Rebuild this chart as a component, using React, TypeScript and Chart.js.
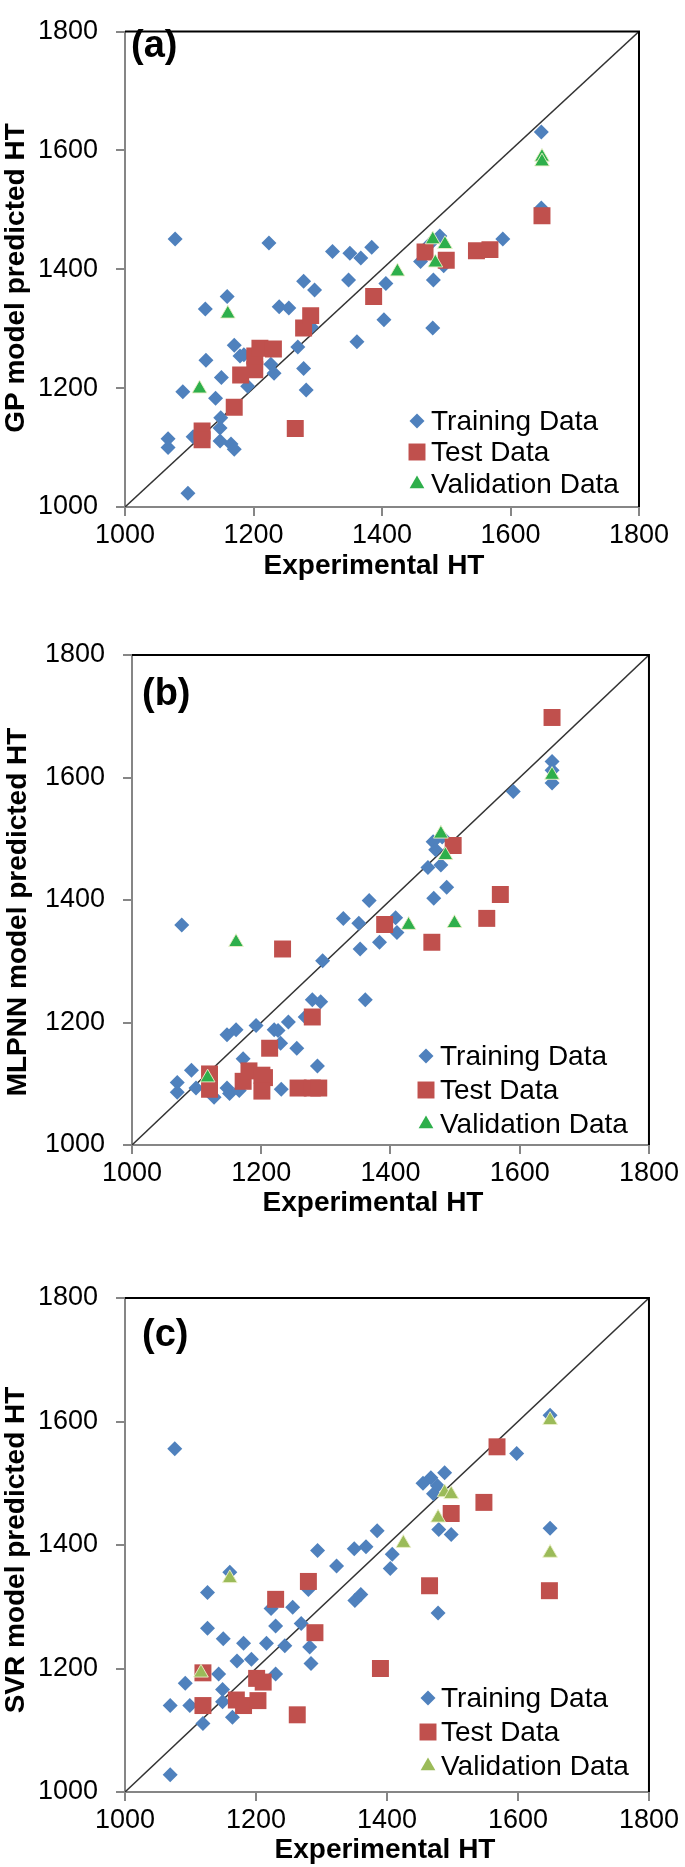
import React, { useEffect, useRef } from 'react';
import { Chart, registerables } from 'chart.js';
Chart.register(...registerables);

const FONT = '"Liberation Sans", Arial, Helvetica, sans-serif';

// ---------- axis ----------
const AXIS_MIN = 1000;
const AXIS_MAX = 1800;
const AXIS_STEP = 200;

// ---------- Panel (a) GP ----------
const gpTrainX = [1078, 1224, 1323, 1350, 1367, 1384, 1588, 1648, 1648, 1348, 1278, 1295, 1406, 1403, 1361, 1480, 1479, 1460, 1474, 1490, 1496, 1159, 1125, 1126, 1240, 1255, 1170, 1179, 1185, 1269, 1227, 1232, 1278, 1282, 1150, 1090, 1191, 1141, 1149, 1148, 1148, 1165, 1170, 1067, 1067, 1106, 1098, 1199, 1290];
const gpTrainY = [1451, 1444, 1430, 1427, 1419, 1437, 1451, 1631, 1503, 1382, 1380, 1365, 1376, 1315, 1278, 1382, 1301, 1413, 1442, 1456, 1406, 1354, 1333, 1247, 1337, 1335, 1272, 1254, 1256, 1269, 1240, 1225, 1233, 1197, 1218, 1194, 1203, 1183, 1150, 1133, 1111, 1106, 1097, 1115, 1100, 1118, 1023, 1257, 1303];
const gpTestX = [1120, 1120, 1170, 1180, 1202, 1202, 1210, 1231, 1278, 1289, 1265, 1387, 1467, 1500, 1547, 1568, 1649];
const gpTestY = [1128, 1113, 1168, 1222, 1231, 1254, 1267, 1266, 1301, 1322, 1132, 1354, 1429, 1415, 1431, 1433, 1490];
const gpValX = [1116, 1160, 1424, 1479, 1498, 1483, 1649, 1649];
const gpValY = [1199, 1325, 1396, 1450, 1442, 1411, 1589, 1581];

// ---------- Panel (b) MLPNN ----------
const nnTrainX = [1077, 1327, 1351, 1367, 1408, 1410, 1383, 1353, 1295, 1361, 1279, 1292, 1268, 1242, 1192, 1147, 1161, 1220, 1226, 1230, 1255, 1172, 1287, 1092, 1070, 1070, 1099, 1127, 1147, 1151, 1166, 1231, 1590, 1650, 1650, 1650, 1458, 1478, 1467, 1487, 1466, 1470, 1480];
const nnTrainY = [1359, 1370, 1362, 1399, 1371, 1347, 1331, 1320, 1301, 1237, 1237, 1234, 1209, 1201, 1195, 1180, 1188, 1188, 1187, 1166, 1158, 1141, 1129, 1122, 1102, 1086, 1093, 1078, 1093, 1084, 1089, 1091, 1577, 1626, 1612, 1591, 1453, 1457, 1403, 1421, 1495, 1482, 1503];
const nnTestX = [1120, 1120, 1172, 1181, 1201, 1205, 1201, 1213, 1233, 1257, 1279, 1289, 1279, 1391, 1464, 1549, 1570, 1497, 1650];
const nnTestY = [1116, 1091, 1104, 1121, 1114, 1110, 1088, 1158, 1320, 1093, 1093, 1093, 1209, 1360, 1331, 1370, 1409, 1489, 1698];
const nnValX = [1117, 1161, 1428, 1499, 1478, 1485, 1650];
const nnValY = [1110, 1331, 1359, 1362, 1508, 1473, 1604];

// ---------- Panel (c) SVR ----------
const svTrainX = [1076, 1069, 1069, 1092, 1099, 1119, 1126, 1126, 1143, 1150, 1149, 1149, 1160, 1164, 1171, 1181, 1193, 1216, 1223, 1230, 1230, 1244, 1256, 1269, 1280, 1282, 1284, 1294, 1323, 1350, 1368, 1385, 1351, 1360, 1405, 1408, 1455, 1467, 1471, 1477, 1488, 1479, 1478, 1498, 1598, 1649, 1649];
const svTrainY = [1556, 1140, 1028, 1176, 1140, 1111, 1323, 1265, 1191, 1248, 1166, 1146, 1356, 1121, 1212, 1241, 1215, 1241, 1297, 1269, 1191, 1237, 1299, 1273, 1328, 1235, 1208, 1391, 1366, 1394, 1397, 1423, 1310, 1320, 1362, 1385, 1500, 1509, 1483, 1496, 1517, 1425, 1290, 1417, 1548, 1610, 1427];
const svTestX = [1119, 1119, 1170, 1181, 1201, 1211, 1203, 1230, 1263, 1280, 1290, 1390, 1465, 1498, 1548, 1568, 1648];
const svTestY = [1193, 1140, 1149, 1140, 1184, 1178, 1148, 1312, 1125, 1341, 1258, 1200, 1334, 1451, 1469, 1559, 1326];
const svValX = [1116, 1160, 1425, 1478, 1488, 1498, 1649, 1649];
const svValY = [1193, 1346, 1403, 1444, 1485, 1482, 1602, 1387];

const LEGEND_LABELS = ['Training Data', 'Test Data', 'Validation Data'];
const X_TITLE = 'Experimental HT';

const BLUE = '#4F81BD';
const RED = '#C0504D';
const GREEN = '#2EAF4B';
const OLIVE = '#9BBB59';
const AXIS_GRAY = '#868686';

const pts = (xs: number[], ys: number[]) => xs.map((x, i) => ({ x, y: ys[i] }));

type PanelCfg = {
  top: number;
  height: number;
  area: { left: number; right: number; top: number; bottom: number };
  label: string;
  labelPos: [number, number];
  yTitle: string;
  yTitlePos: [number, number];
  xTitlePos: [number, number];
  legendMarkerX: number;
  legendTextX: number;
  legendRows: number[];
  triColor: string;
  train: [number[], number[]];
  test: [number[], number[]];
  val: [number[], number[]];
};

const PANELS: PanelCfg[] = [
  {
    top: 0, height: 600,
    area: { left: 125, right: 639, top: 15, bottom: 507 },
    label: '(a)', labelPos: [131, 57],
    yTitle: 'GP model predicted HT', yTitlePos: [16, 278],
    xTitlePos: [374, 566],
    legendMarkerX: 417, legendTextX: 431, legendRows: [421, 452, 484],
    triColor: GREEN,
    train: [gpTrainX, gpTrainY], test: [gpTestX, gpTestY], val: [gpValX, gpValY],
  },
  {
    top: 600, height: 630,
    area: { left: 132, right: 650, top: 655, bottom: 1145 },
    label: '(b)', labelPos: [142, 705],
    yTitle: 'MLPNN model predicted HT', yTitlePos: [18, 912],
    xTitlePos: [373, 1203],
    legendMarkerX: 426, legendTextX: 440, legendRows: [1056, 1090, 1124],
    triColor: GREEN,
    train: [nnTrainX, nnTrainY], test: [nnTestX, nnTestY], val: [nnValX, nnValY],
  },
  {
    top: 1230, height: 637,
    area: { left: 125, right: 650, top: 1298, bottom: 1792 },
    label: '(c)', labelPos: [142, 1346],
    yTitle: 'SVR model predicted HT', yTitlePos: [16, 1550],
    xTitlePos: [385, 1850],
    legendMarkerX: 428, legendTextX: 441, legendRows: [1698, 1732, 1766],
    triColor: OLIVE,
    train: [svTrainX, svTrainY], test: [svTestX, svTestY], val: [svValX, svValY],
  },
];

const R_DIAMOND = 7.5;
const R_SQUARE = 12;
const R_TRI = 8.5;

function drawMarker(ctx: CanvasRenderingContext2D, kind: number, x: number, y: number, color: string) {
  ctx.save();
  ctx.fillStyle = color;
  ctx.beginPath();
  if (kind === 0) {
    ctx.moveTo(x - R_DIAMOND, y);
    ctx.lineTo(x, y - R_DIAMOND);
    ctx.lineTo(x + R_DIAMOND, y);
    ctx.lineTo(x, y + R_DIAMOND);
  } else if (kind === 1) {
    const s = R_SQUARE * Math.SQRT1_2;
    ctx.rect(x - s, y - s, 2 * s, 2 * s);
  } else {
    ctx.moveTo(x, y - R_TRI);
    ctx.lineTo(x + R_TRI * 0.866, y + R_TRI * 0.5);
    ctx.lineTo(x - R_TRI * 0.866, y + R_TRI * 0.5);
  }
  ctx.closePath();
  ctx.fill();
  ctx.restore();
}

function Panel({ cfg }: { cfg: PanelCfg }) {
  const ref = useRef<HTMLCanvasElement>(null);
  useEffect(() => {
    const canvas = ref.current!;
    const off = cfg.top;
    const decor = {
      id: 'decor',
      afterDraw(chart: any) {
        const ctx: CanvasRenderingContext2D = chart.ctx;
        const a = chart.chartArea;
        ctx.save();
        // top & right frame (black)
        ctx.strokeStyle = '#000';
        ctx.lineWidth = 2;
        ctx.beginPath();
        ctx.moveTo(a.left, a.top);
        ctx.lineTo(a.right, a.top);
        ctx.lineTo(a.right, a.bottom);
        ctx.stroke();
        // panel label
        ctx.fillStyle = '#000';
        ctx.font = `bold 38px ${FONT}`;
        ctx.textAlign = 'left';
        ctx.textBaseline = 'alphabetic';
        ctx.fillText(cfg.label, cfg.labelPos[0], cfg.labelPos[1] - off);
        // axis titles
        ctx.font = `bold 28px ${FONT}`;
        ctx.textAlign = 'center';
        ctx.textBaseline = 'middle';
        ctx.fillText(X_TITLE, cfg.xTitlePos[0], cfg.xTitlePos[1] - off);
        ctx.save();
        ctx.translate(cfg.yTitlePos[0], cfg.yTitlePos[1] - off);
        ctx.rotate(-Math.PI / 2);
        ctx.fillText(cfg.yTitle, 0, 0);
        ctx.restore();
        // legend
        const colors = [BLUE, RED, cfg.triColor];
        ctx.font = `28px ${FONT}`;
        ctx.textAlign = 'left';
        ctx.textBaseline = 'middle';
        LEGEND_LABELS.forEach((t, i) => {
          const y = cfg.legendRows[i] - off;
          drawMarker(ctx, i, cfg.legendMarkerX, y, colors[i]);
          ctx.fillStyle = '#000';
          ctx.fillText(t, cfg.legendTextX, y + 1);
        });
        ctx.restore();
      },
    };

    const tickFont = { family: FONT, size: 27, lineHeight: 1 };
    const fmt = (v: any) => String(v);
    const chart = new Chart(canvas, {
      type: 'scatter',
      data: {
        datasets: [
          {
            type: 'line',
            data: [{ x: AXIS_MIN, y: AXIS_MIN }, { x: AXIS_MAX, y: AXIS_MAX }],
            borderColor: '#333333',
            borderWidth: 1.5,
            pointRadius: 0,
            showLine: true,
            fill: false,
            order: 4,
          } as any,
          {
            data: pts(cfg.train[0], cfg.train[1]),
            pointStyle: 'rectRot',
            pointRadius: R_DIAMOND,
            backgroundColor: BLUE,
            borderWidth: 0,
            order: 3,
          },
          {
            data: pts(cfg.test[0], cfg.test[1]),
            pointStyle: 'rect',
            pointRadius: R_SQUARE,
            backgroundColor: RED,
            borderWidth: 0,
            order: 2,
          },
          {
            data: pts(cfg.val[0], cfg.val[1]),
            pointStyle: 'triangle',
            pointRadius: R_TRI,
            backgroundColor: cfg.triColor,
            borderColor: 'rgba(235,240,200,0.9)',
            borderWidth: 1,
            order: 1,
          },
        ],
      },
      options: {
        animation: false,
        responsive: false,
        devicePixelRatio: 1,
        events: [],
        layout: {
          padding: {
            left: 0,
            right: 685 - cfg.area.right,
            top: cfg.area.top - off,
            bottom: 0,
          },
        },
        plugins: {
          legend: { display: false },
          tooltip: { enabled: false },
          title: { display: false },
        },
        scales: {
          x: {
            type: 'linear',
            min: AXIS_MIN,
            max: AXIS_MAX,
            ticks: { stepSize: AXIS_STEP, color: '#000', font: tickFont, padding: 6, maxRotation: 0, callback: fmt },
            grid: { drawOnChartArea: false, drawTicks: true, tickLength: 9, color: AXIS_GRAY, lineWidth: 2 },
            border: { display: true, color: AXIS_GRAY, width: 2 },
            afterFit: (s: any) => { s.height = cfg.height - (cfg.area.bottom - off); },
          },
          y: {
            type: 'linear',
            min: AXIS_MIN,
            max: AXIS_MAX,
            ticks: { stepSize: AXIS_STEP, color: '#000', font: tickFont, padding: 18, callback: fmt },
            grid: { drawOnChartArea: false, drawTicks: true, tickLength: 9, color: AXIS_GRAY, lineWidth: 2 },
            border: { display: true, color: AXIS_GRAY, width: 2 },
            afterFit: (s: any) => { s.width = cfg.area.left; },
          },
        },
      },
      plugins: [decor],
    } as any);
    return () => chart.destroy();
  }, [cfg]);
  return (
    <canvas
      ref={ref}
      width={685}
      height={cfg.height}
      style={{ position: 'absolute', left: 0, top: cfg.top, width: 685, height: cfg.height, display: 'block' }}
    />
  );
}

export default function App() {
  return (
    <div style={{ position: 'absolute', left: 0, top: 0, width: 685, height: 1867, background: '#fff' }}>
      {PANELS.map((p, i) => (
        <Panel key={i} cfg={p} />
      ))}
    </div>
  );
}
